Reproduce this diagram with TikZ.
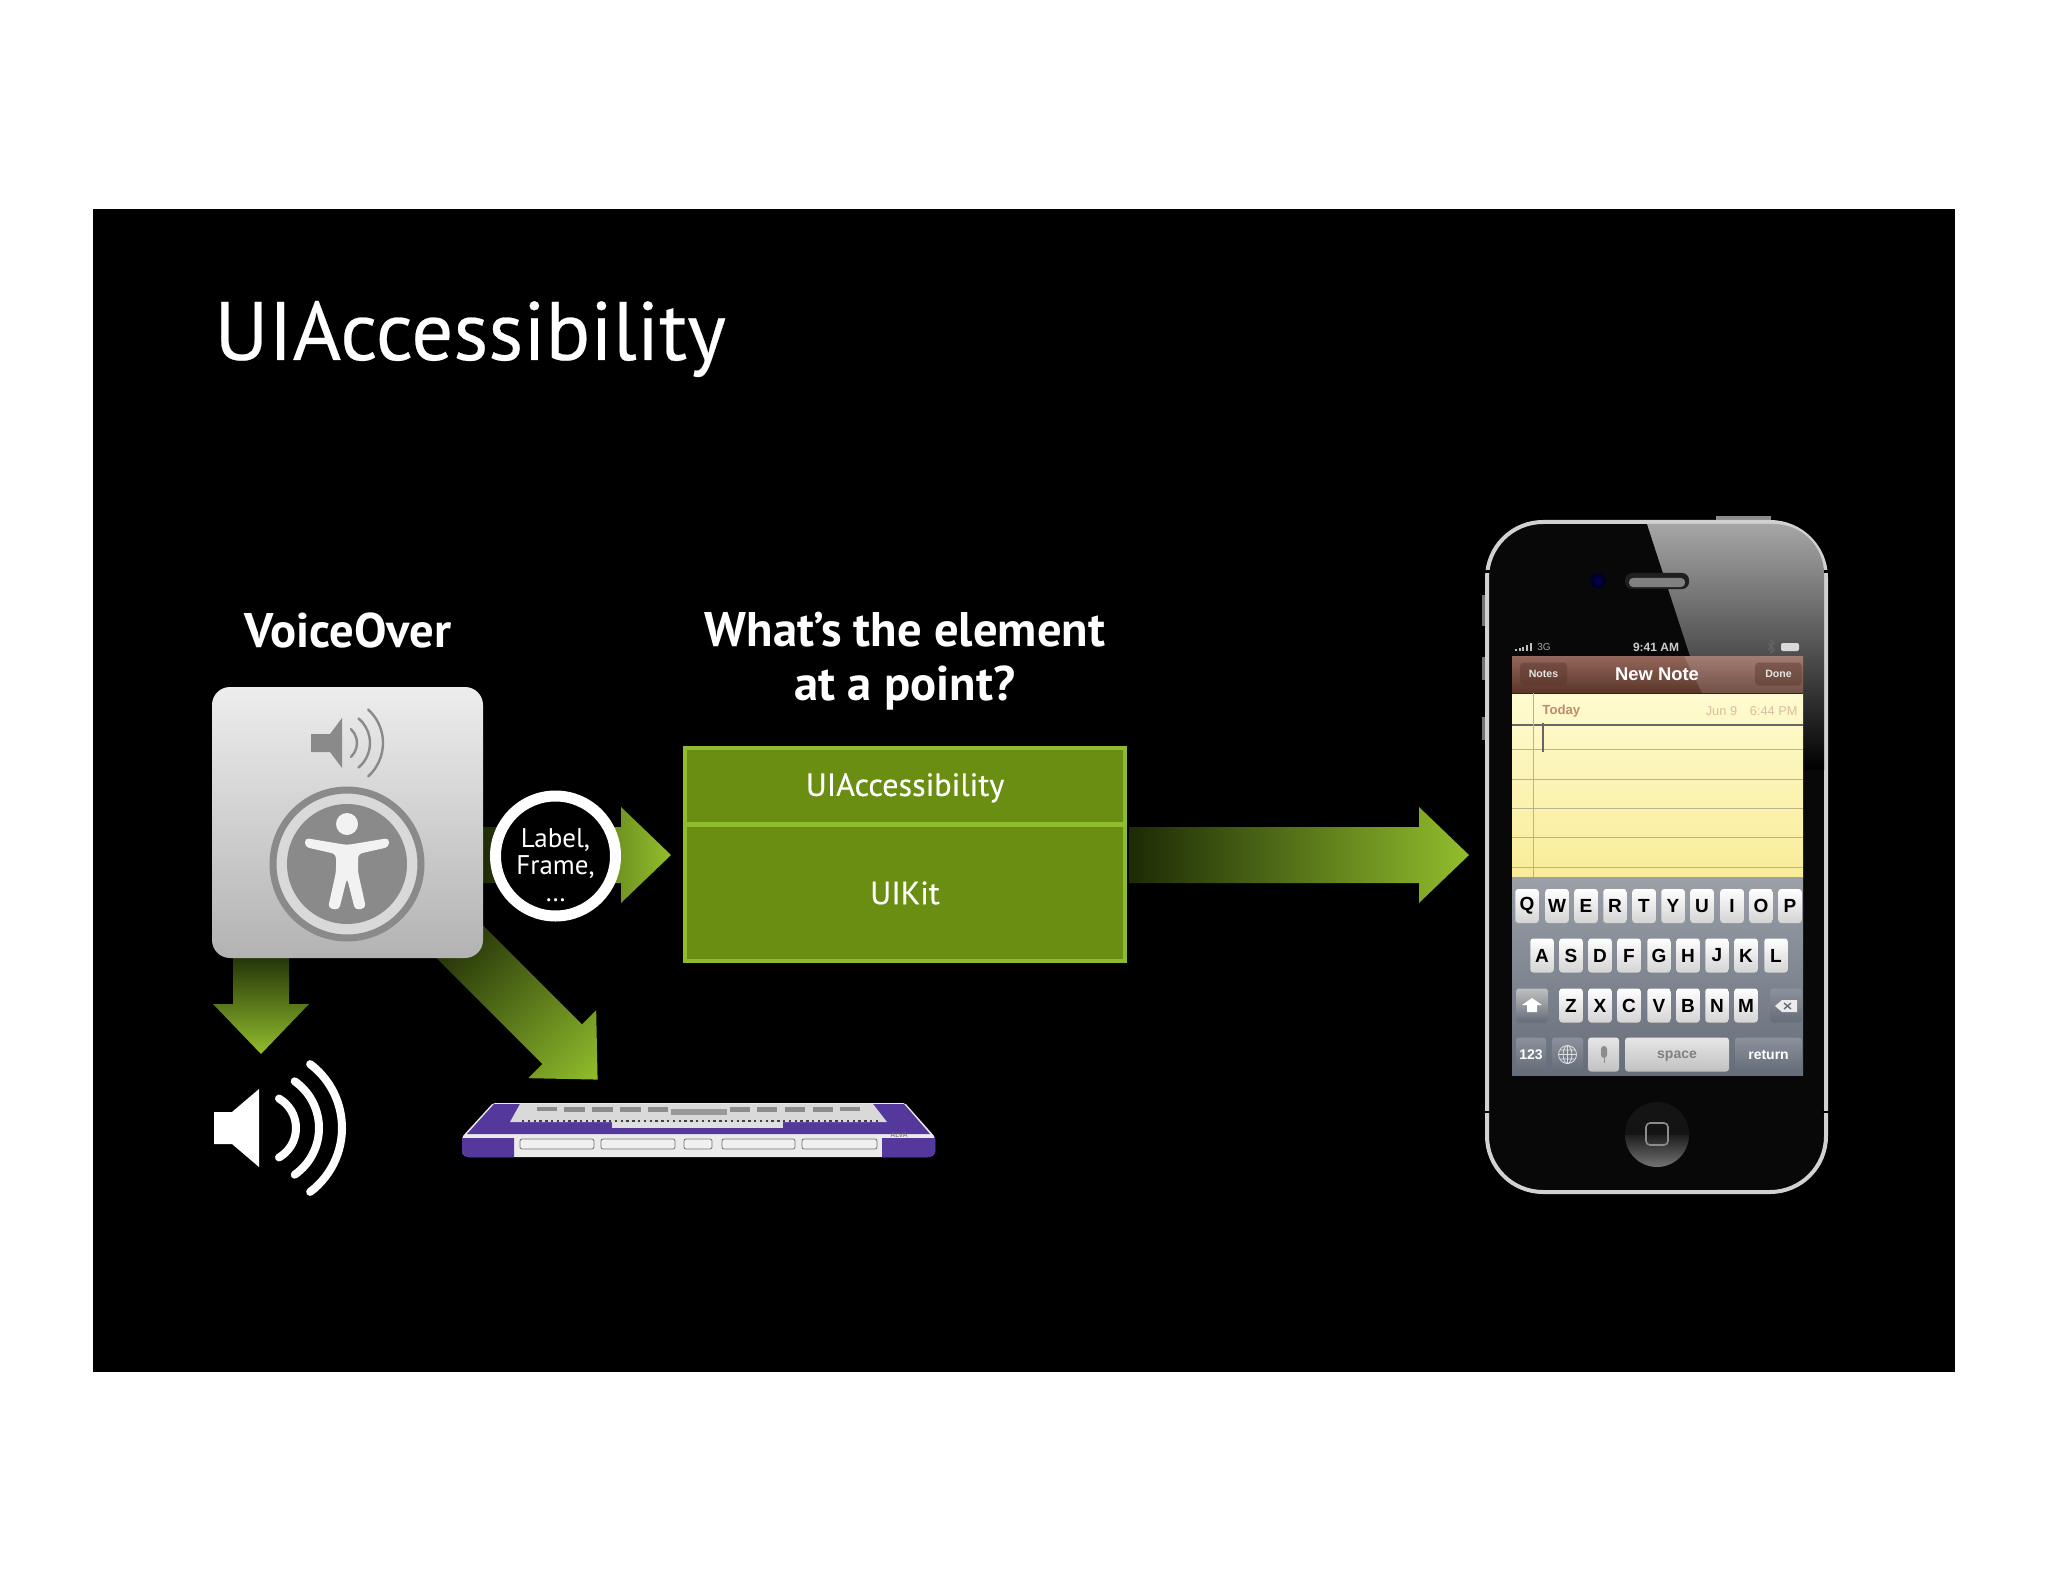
\documentclass[tikz,border=0pt]{standalone}
\usepackage{fontspec}
\setmainfont{PT Sans}
\newfontfamily\slidefont[FakeBold=.3]{PT Sans}
\newfontfamily\phonefont{Liberation Sans}
\usetikzlibrary{calc}

\definecolor{arrowdark}{HTML}{1C2A06}
\definecolor{arrowlight}{HTML}{92BE2C}
\definecolor{blockfill}{HTML}{6A8E12}
\definecolor{blockedge}{HTML}{8FBB2E}
\definecolor{icongray}{HTML}{8A8A8A}
\definecolor{braillepurple}{HTML}{55389C}
\definecolor{keydark}{HTML}{656D7A}
\definecolor{navtop}{HTML}{94675C}
\definecolor{navbottom}{HTML}{5A3529}
\definecolor{papertop}{HTML}{FEFBD0}
\definecolor{paperbottom}{HTML}{F9EC98}
\definecolor{todaytext}{HTML}{C08A70}
\definecolor{datetext}{HTML}{DCBCA0}

\tikzset{
  titletext/.style={text=white, font=\slidefont\fontsize{41.5}{41.5}\selectfont},
  headtext/.style={text=white, font=\fontsize{24.3}{27}\selectfont\bfseries, align=center},
  blocktext/.style={draw=blockedge, fill=blockfill, line width=2pt, text=white, inner sep=0pt,
    minimum width=169pt, font=\slidefont\fontsize{16.1}{20}\selectfont},
  iconbox/.style={rounded corners=9pt, top color=black!7, bottom color=black!30, inner sep=0pt,
    minimum width=135.5pt, minimum height=135.5pt},
  spkline/.style={line cap=round, line width=4pt, white},
  smallspk/.style={line cap=round, line width=1.2pt, icongray},
  kbkey/.style={rounded corners=1.5pt, top color=white, bottom color=black!17, text=black, inner sep=0pt,
    minimum width=11.75pt, minimum height=17pt, font=\phonefont\bfseries\fontsize{9.5}{10}\selectfont},
  darkkey/.style={rounded corners=1.5pt, top color=keydark!75!white, bottom color=keydark, text=white, inner sep=0pt,
    minimum height=17pt, text depth=0pt, font=\phonefont\bfseries\fontsize{7}{8}\selectfont},
  palekey/.style={rounded corners=1.5pt, top color=black!10, bottom color=black!24, text=black!50, inner sep=0pt,
    minimum height=17pt, text depth=0pt, font=\phonefont\bfseries\fontsize{7}{8}\selectfont},
  phonetext/.style={inner sep=0pt, font=\phonefont\fontsize{6.2}{7}\selectfont},
  navbutton/.style={rounded corners=2pt, fill=navbottom, fill opacity=.45, text opacity=1, text=white!90!black, inner sep=0pt,
    minimum width=23.5pt, minimum height=11.5pt, font=\phonefont\bfseries\fontsize{5.3}{6}\selectfont},
  paperline/.style={line width=.4pt, black!30!yellow!60!black!55!white},
}

\newcommand{\greenarrow}[2]{%
  \path let \p1=($(#2)-(#1)$), \n1={atan2(\y1,\x1)}, \n2={veclen(\x1,\y1)} in
    \pgfextra{\xdef\arrowang{\n1}\xdef\arrowlen{\n2}};
  \shade[transform canvas={shift={(#1)},rotate=\arrowang}, left color=arrowdark, right color=arrowlight]
    (0pt,-14pt) -- ({\arrowlen-25pt},-14pt) -- ({\arrowlen-25pt},-24pt) -- (\arrowlen,0pt)
    -- ({\arrowlen-25pt},24pt) -- ({\arrowlen-25pt},14pt) -- (0pt,14pt) -- cycle;
}

\begin{document}
\begin{tikzpicture}[x=0.5pt, y=-0.5pt]

\useasboundingbox (0,0) rectangle (2048,1582);
\fill[black] (93,209) rectangle (1955,1372);

%% arrow ends
\coordinate (downstart) at (261,950);
\coordinate (downtip) at (261,1054);
\coordinate (diagstart) at (445,927);
\coordinate (diagtip) at (598,1080);
\coordinate (labelstart) at (483,855);
\coordinate (labeltip) at (671,855);
\coordinate (phonestart) at (1129,855);
\coordinate (phonetip) at (1469,855);

%% arrows
\greenarrow{downstart}{downtip}
\greenarrow{diagstart}{diagtip}
\greenarrow{labelstart}{labeltip}
\greenarrow{phonestart}{phonetip}

%% headings
\node[titletext, anchor=base west, inner sep=0pt] (title) at (214,360) {UIAccessibility};
\node[headtext, inner sep=0pt] (voicelabel) at (348,630) {VoiceOver};
\node[headtext, inner sep=0pt] (whatlabel) at (905,661) {What’s the element\\at a point?};

%% voiceover icon
\node[iconbox] (icon) at (347.5,822.5) {};
\fill[icongray] (311,734) -- (330,734) -- (342,718) -- (342,768) -- (330,752) -- (311,752) -- cycle;
\draw[smallspk] (338,743) ++(-47:9.5pt) arc[start angle=-47, end angle=47, radius=9.5pt];
\draw[smallspk] (338,743) ++(-50:16pt) arc[start angle=-50, end angle=50, radius=16pt];
\draw[smallspk] (338,743) ++(-48:22.5pt) arc[start angle=-48, end angle=48, radius=22.5pt];
\draw[icongray, line width=3.5pt, fill=black!15] (347,864) circle (37pt);
\fill[icongray] (347,864) circle (30pt);
\fill[black!5] (347,824) circle (5.5pt);
\fill[black!5, rounded corners=2pt] (305,838) -- (347,845) -- (389,838) -- (389,847) -- (358,854)
  -- (358,872) -- (366,908) -- (355,910) -- (347,878) -- (339,910) -- (328,908) -- (336,872)
  -- (336,854) -- (305,847) -- cycle;

%% ring with text
\node[circle, draw=white, fill=black, line width=5.5pt, minimum size=60pt, inner sep=0pt] (fieldring) at (555.5,856) {};
\node[inner sep=0pt, text=white, align=center, font=\fontsize{13.5}{13.5}\selectfont] (fieldtext) at (555.5,865) {Label,\\Frame,\\…};

%% green blocks
\node[blocktext, minimum width=220pt, minimum height=38pt, text depth=1.5pt] (accessblock) at (905,786) {UIAccessibility};
\node[blocktext, minimum width=220pt, minimum height=68pt] (kitblock) at (905,893) {UIKit};

%% loudspeaker
\fill[white] (214,1112) -- (232,1112) -- (259,1089) -- (259,1167) -- (232,1144) -- (214,1144) -- cycle;
\draw[spkline] (262,1128) ++(-60:17pt) arc[start angle=-60, end angle=60, radius=17pt];
\draw[spkline] (262,1128) ++(-55:28.5pt) arc[start angle=-55, end angle=55, radius=28.5pt];
\draw[spkline] (262,1128) ++(-53:40pt) arc[start angle=-53, end angle=53, radius=40pt];

%% braille display
\fill[black!8, rounded corners=1pt] (462,1137) -- (493,1103) -- (905,1103) -- (935,1137) -- (935,1154) -- (930,1157) -- (467,1157) -- (462,1154) -- cycle;
\fill[braillepurple] (467,1134) -- (494,1104) -- (904,1104) -- (930,1134) -- cycle;
\fill[braillepurple] (462,1138) -- (514,1138) -- (514,1157) -- (467,1157) -- (462,1154) -- cycle;
\fill[braillepurple] (882,1138) -- (935,1138) -- (935,1154) -- (930,1157) -- (882,1157) -- cycle;
\fill[black!15] (520,1104) -- (873,1104) -- (887,1122) -- (510,1122) -- cycle;
\fill[black!12] (612,1122) rectangle (783,1128);
\draw[black!75, line width=1.1pt, dash pattern=on 1.2pt off 1.7pt] (522,1121) -- (880,1121);
\fill[black!40] (671,1109) rectangle (727,1115);
\fill[black!45] (537,1107) rectangle (557,1111);
\fill[black!45] (564,1107) rectangle (585,1112);
\fill[black!45] (592,1107) rectangle (613,1112);
\fill[black!45] (620,1107) rectangle (641,1112);
\fill[black!45] (648,1107) rectangle (668,1112);
\fill[black!45] (730,1107) rectangle (750,1112);
\fill[black!45] (757,1107) rectangle (777,1112);
\fill[black!45] (785,1107) rectangle (805,1112);
\fill[black!45] (813,1107) rectangle (833,1112);
\fill[black!45] (840,1107) rectangle (860,1111);
\draw[black!55, fill=black!6, line width=.4pt, rounded corners=1pt] (520,1139) rectangle (594,1149);
\draw[black!55, fill=black!6, line width=.4pt, rounded corners=1pt] (601,1139) rectangle (675,1149);
\draw[black!55, fill=black!6, line width=.4pt, rounded corners=1pt] (684,1139) rectangle (712,1149);
\draw[black!55, fill=black!6, line width=.4pt, rounded corners=1pt] (722,1139) rectangle (795,1149);
\draw[black!55, fill=black!6, line width=.4pt, rounded corners=1pt] (802,1139) rectangle (877,1149);
\node[inner sep=0pt, text=black!60, font=\phonefont\fontsize{3.5}{4}\selectfont] (alvabrand) at (899,1135) {ALVA};

%% phone body
\fill[black!45] (1716,516) rectangle (1771,522);
\fill[black!55] (1482,595) rectangle (1487,626);
\fill[black!55] (1482,657) rectangle (1487,680);
\fill[black!55] (1482,717) rectangle (1487,740);
\node[draw=black!18, fill=black!97, line width=2pt, rounded corners=28pt, inner sep=0pt,
  minimum width=169.5pt, minimum height=335pt] (phone) at (1656.5,857) {};
\fill[black] (1484,570) rectangle (1490,573);
\fill[black] (1822,570) rectangle (1829,573);
\fill[black] (1484,1111) rectangle (1490,1113);
\fill[black] (1822,1111) rectangle (1829,1113);

%% glass
\begin{scope}
\clip[rounded corners=25pt] (1489,524) rectangle (1824,1190);
\shade[top color=black!35, bottom color=black] (1647,524) -- (1830,524) -- (1830,770) -- (1727,770) -- cycle;
\end{scope}

%% camera and earpiece
\fill[black!85!blue] (1598,581) circle (4pt);
\fill[blue!35!black] (1598,581) circle (1.8pt);
\fill[black!88, rounded corners=3.5pt] (1625,573) rectangle (1689,589);
\fill[black!50, rounded corners=2pt] (1629,578) rectangle (1685,587);

%% status bar
\fill[black!25] (1515,649) rectangle (1517,651);
\fill[black!25] (1519,648) rectangle (1521,651);
\fill[black!25] (1522,647) rectangle (1524,651);
\fill[black!25] (1526,645) rectangle (1528,651);
\fill[black!25] (1530,643) rectangle (1532,651);
\node[phonetext, text=black!35, font=\phonefont\fontsize{5}{6}\selectfont] (netlabel) at (1544,647) {3G};
\node[phonetext, text=black!20, font=\phonefont\bfseries\fontsize{6}{7}\selectfont] (clocklabel) at (1656,647) {9:41 AM};
\draw[black!60, line width=.5pt] (1768,643) -- (1774,650) -- (1771,653) -- (1771,640) -- (1774,643) -- (1768,650);
\fill[black!15, rounded corners=1pt] (1781,643) rectangle (1799,651);

%% nav bar
\shade[top color=navtop, bottom color=navbottom] (1512,656) rectangle (1803,693);
\fill[white, opacity=.14] (1684,656) -- (1803,656) -- (1803,693) -- (1702,693) -- cycle;
\node[navbutton] (notesbutton) at (1543.5,674) {Notes};
\node[navbutton] (donebutton) at (1778.5,674) {Done};
\node[phonetext, text=white, font=\phonefont\bfseries\fontsize{9.2}{10}\selectfont] (newnote) at (1657,674) {New Note};

%% paper
\shade[top color=papertop, bottom color=paperbottom] (1512,693) rectangle (1803,877);
\draw[black!85, line width=.6pt] (1512,693.5) -- (1803,693.5);
\node[phonetext, anchor=west, text=todaytext, font=\phonefont\bfseries\fontsize{6.6}{7}\selectfont] (todaylabel) at (1542,711) {Today};
\node[phonetext, anchor=east, text=datetext, font=\phonefont\fontsize{6.4}{7}\selectfont] (datelabel) at (1798,711) {Jun 9\quad 6:44 PM};
\draw[black!60, line width=.6pt] (1512,725) -- (1803,725);
\draw[paperline] (1512,749) -- (1803,749);
\draw[paperline] (1512,779) -- (1803,779);
\draw[paperline] (1512,808) -- (1803,808);
\draw[paperline] (1512,837) -- (1803,837);
\draw[paperline] (1512,867) -- (1803,867);
\draw[paperline] (1533,693) -- (1533,877);
\draw[black!60, line width=.8pt] (1543,723) -- (1543,752);

%% keyboard
\shade[top color=keydark!65!white, bottom color=keydark] (1512,877) rectangle (1803,1075);
\node[kbkey] (keyq) at (1527,906) {Q};
\node[kbkey] (keyw) at (1557,906) {W};
\node[kbkey] (keye) at (1586,906) {E};
\node[kbkey] (keyr) at (1615,906) {R};
\node[kbkey] (keyt) at (1644,906) {T};
\node[kbkey] (keyy) at (1673,906) {Y};
\node[kbkey] (keyu) at (1702,906) {U};
\node[kbkey] (keyi) at (1732,906) {I};
\node[kbkey] (keyo) at (1761,906) {O};
\node[kbkey] (keyp) at (1790,906) {P};
\node[kbkey] (keya) at (1542,955.5) {A};
\node[kbkey] (keys) at (1571,955.5) {S};
\node[kbkey] (keyd) at (1600,955.5) {D};
\node[kbkey] (keyf) at (1629,955.5) {F};
\node[kbkey] (keyg) at (1659,955.5) {G};
\node[kbkey] (keyh) at (1688,955.5) {H};
\node[kbkey] (keyj) at (1717,955.5) {J};
\node[kbkey] (keyk) at (1746,955.5) {K};
\node[kbkey] (keyl) at (1776,955.5) {L};
\node[kbkey] (keyz) at (1571,1005.5) {Z};
\node[kbkey] (keyx) at (1600,1005.5) {X};
\node[kbkey] (keyc) at (1629,1005.5) {C};
\node[kbkey] (keyv) at (1659,1005.5) {V};
\node[kbkey] (keyb) at (1688,1005.5) {B};
\node[kbkey] (keyn) at (1717,1005.5) {N};
\node[kbkey] (keym) at (1746,1005.5) {M};
\node[darkkey, minimum width=16pt, top color=black!25, bottom color=keydark] (keyshift) at (1532,1005.5) {};
\fill[white] (1532,998) -- (1542,1005) -- (1537,1005) -- (1537,1012) -- (1527,1012) -- (1527,1005) -- (1522,1005) -- cycle;
\node[darkkey, minimum width=16pt] (keydelete) at (1786,1005.5) {};
\fill[black!8] (1775,1006) -- (1782,1000) -- (1797,1000) -- (1797,1012) -- (1782,1012) -- cycle;
\draw[keydark, line width=.7pt] (1784,1003) -- (1791,1009) (1784,1009) -- (1791,1003);
\node[darkkey, minimum width=15pt] (key123) at (1531,1054.5) {123};
\node[darkkey, minimum width=15.5pt] (keyglobe) at (1567.5,1054.5) {};
\draw[black!12, line width=.4pt] (1567.5,1054.5) circle (4.5pt) (1558.5,1054.5) -- (1576.5,1054.5) (1567.5,1045.5) -- (1567.5,1063.5);
\draw[black!12, line width=.4pt] (1567.5,1054.5) ellipse (2.2pt and 4.5pt) (1560,1050) -- (1575,1050) (1560,1059) -- (1575,1059);
\node[palekey, minimum width=15.5pt] (keymic) at (1603.5,1054.5) {};
\fill[black!45, rounded corners=1.5pt] (1601,1046) rectangle (1607,1058);
\draw[black!45, line width=.5pt] (1604,1058) -- (1604,1063);
\node[palekey, minimum width=52pt] (keyspace) at (1677,1054.5) {space};
\node[darkkey, minimum width=33.5pt] (keyreturn) at (1768.5,1054.5) {return};

%% home button
\fill[black!92] (1657,1134) circle (16pt);
\shade[top color=black!88, bottom color=black!55] (1625,1135) arc[start angle=180, end angle=360, radius=16pt] -- cycle;
\draw[black!45, line width=.8pt, rounded corners=2pt] (1646,1123) rectangle (1668,1145);

\end{tikzpicture}
\end{document}
